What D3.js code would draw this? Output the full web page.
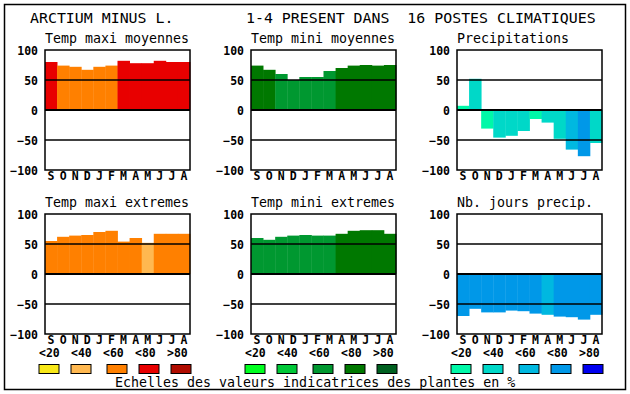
<!DOCTYPE html>
<html>
<head>
<meta charset="utf-8">
<script src="https://cdn.jsdelivr.net/npm/d3@7"></script>
<style>
  body { margin: 0; background: #fff; }
  text { font-family: "DejaVu Sans Mono", monospace; }
</style>
</head>
<body>
<script>
// data
const months = ["S", "O", "N", "D", "J", "F", "M", "A", "M", "J", "J", "A"];
const classLabels = ["<20", "<40", "<60", "<80", ">80"];

const tempColors = ["#f8e818", "#ffb850", "#ff8000", "#e80000", "#b00c00"];
const greenColors = ["#00ff20", "#00c838", "#009830", "#007800", "#006020"];
const blueColors = ["#00f8a8", "#00d8c8", "#00b8e0", "#0098e8", "#0000f0"];

const maxiMoyValues = [80, 74, 72, 67, 72, 74, 82, 78, 78, 82, 80, 80];
const maxiMoyClass  = [3, 2, 2, 2, 2, 2, 3, 3, 3, 3, 3, 3];

const miniMoyValues = [74, 67, 60, 50, 55, 55, 65, 70, 74, 75, 74, 75];
const miniMoyClass  = [3, 3, 2, 2, 2, 2, 2, 3, 3, 3, 3, 3];

const precipValues = [7, 52, -31, -46, -43, -35, -15, -21, -48, -66, -77, -55];
const precipClass  = [0, 1, 0, 1, 1, 1, 0, 1, 1, 2, 3, 1];

const maxiExtValues = [55, 62, 64, 65, 70, 72, 54, 60, 52, 67, 67, 67];
const maxiExtClass  = [2, 2, 2, 2, 2, 2, 2, 2, 1, 2, 2, 2];

const miniExtValues = [60, 57, 62, 64, 65, 64, 64, 67, 72, 73, 73, 67];
const miniExtClass  = [2, 2, 2, 2, 2, 2, 2, 3, 3, 3, 3, 3];

const joursValues = [-70, -58, -64, -64, -61, -62, -66, -68, -71, -72, -76, -68];
const joursClass  = [3, 3, 3, 3, 3, 3, 3, 2, 3, 3, 3, 3];

const yTicks = [-100, -50, 0, 50, 100];

const panels = [
  {title: "Temp maxi moyennes", values: maxiMoyValues, cls: maxiMoyClass, colors: tempColors, col: 0, row: 0},
  {title: "Temp mini moyennes", values: miniMoyValues, cls: miniMoyClass, colors: greenColors, col: 1, row: 0},
  {title: "Precipitations", values: precipValues, cls: precipClass, colors: blueColors, col: 2, row: 0},
  {title: "Temp maxi extremes", values: maxiExtValues, cls: maxiExtClass, colors: tempColors, col: 0, row: 1},
  {title: "Temp mini extremes", values: miniExtValues, cls: miniExtClass, colors: greenColors, col: 1, row: 1},
  {title: "Nb. jours precip.", values: joursValues, cls: joursClass, colors: blueColors, col: 2, row: 1}
];

const width = 630, height = 394;

const svg = d3.select("body").append("svg")
  .attr("width", width)
  .attr("height", height);

svg.append("rect")
  .attr("x", 4.5).attr("y", 4.5)
  .attr("width", 621).attr("height", 385)
  .attr("fill", "none").attr("stroke", "#000").attr("stroke-width", 1.5);

// titles
svg.append("text")
  .attr("x", 30).attr("y", 23)
  .style("font-size", "14.9px")
  .text("ARCTIUM MINUS L.");
svg.append("text")
  .attr("x", 246).attr("y", 23)
  .attr("xml:space", "preserve")
  .style("font-size", "14.9px")
  .style("white-space", "pre")
  .text("1-4 PRESENT DANS  16 POSTES CLIMATIQUES");

const plotW = 145, plotH = 120;
const colStep = 206, rowTop = [50, 214];

panels.forEach(p => {
  const x0 = 45 + p.col * colStep;
  const y0 = rowTop[p.row];
  const g = svg.append("g").attr("transform", `translate(${x0},${y0})`);

  const x = d3.scaleBand().domain(d3.range(12)).range([0, plotW]).padding(0);
  const y = d3.scaleLinear().domain([-100, 100]).range([plotH, 0]);

  g.append("text")
    .attr("x", 0).attr("y", -7)
    .style("font-size", "13.3px")
    .text(p.title);

  g.selectAll("rect.bar")
    .data(p.values)
    .join("rect")
    .attr("class", "bar")
    .attr("x", (d, i) => x(i))
    .attr("width", x.bandwidth() + 0.4)
    .attr("y", d => y(Math.max(0, d)))
    .attr("height", d => Math.abs(y(d) - y(0)))
    .attr("fill", (d, i) => p.colors[p.cls[i]]);

  // grid lines
  g.selectAll("line.grid")
    .data([50, 0, -50])
    .join("line")
    .attr("x1", 0).attr("x2", plotW)
    .attr("y1", d => y(d)).attr("y2", d => y(d))
    .attr("stroke", "#000")
    .attr("stroke-width", d => d === 0 ? 2 : 1.4);

  g.append("rect")
    .attr("width", plotW).attr("height", plotH)
    .attr("fill", "none").attr("stroke", "#000").attr("stroke-width", 1.5);

  // y axis
  const yAxis = g.append("g")
    .call(d3.axisLeft(y).tickValues(yTicks).tickSize(0).tickPadding(7).tickFormat(d3.format("d")));
  yAxis.select(".domain").remove();
  yAxis.selectAll("text")
    .style("font-family", "'DejaVu Sans Mono', monospace")
    .style("font-size", "11.5px")
    .style("font-weight", "bold")
    .attr("dy", "0.36em");

  // month axis
  const xAxis = g.append("g")
    .attr("transform", `translate(0,${plotH})`)
    .call(d3.axisBottom(x).tickSize(0).tickPadding(2).tickFormat(i => months[i]));
  xAxis.select(".domain").remove();
  xAxis.selectAll("text")
    .style("font-family", "'DejaVu Sans Mono', monospace")
    .style("font-size", "11.5px")
    .style("font-weight", "bold");

  // legend below bottom row
  if (p.row === 1) {
    const lg = svg.append("g").attr("transform", `translate(${39 + p.col * colStep},0)`);
    const lx = d3.scalePoint().domain(classLabels).range([0, 128]);
    lg.selectAll("text.cl")
      .data(classLabels)
      .join("text")
      .attr("class", "cl")
      .attr("x", d => lx(d))
      .attr("y", 357)
      .style("font-size", "11.5px")
      .style("font-weight", "bold")
      .text(d => d);
    lg.selectAll("rect.sw")
      .data(p.colors)
      .join("rect")
      .attr("class", "sw")
      .attr("x", (d, i) => lx(classLabels[i]) + (i >= 2 ? 4 : 0))
      .attr("y", 364.5)
      .attr("width", 20).attr("height", 9)
      .attr("fill", d => d)
      .attr("stroke", "#000").attr("stroke-width", 1);
  }
});

svg.append("text")
  .attr("x", 115).attr("y", 387)
  .style("font-size", "13.3px")
  .text("Echelles des valeurs indicatrices des plantes en %");
</script>
</body>
</html>
